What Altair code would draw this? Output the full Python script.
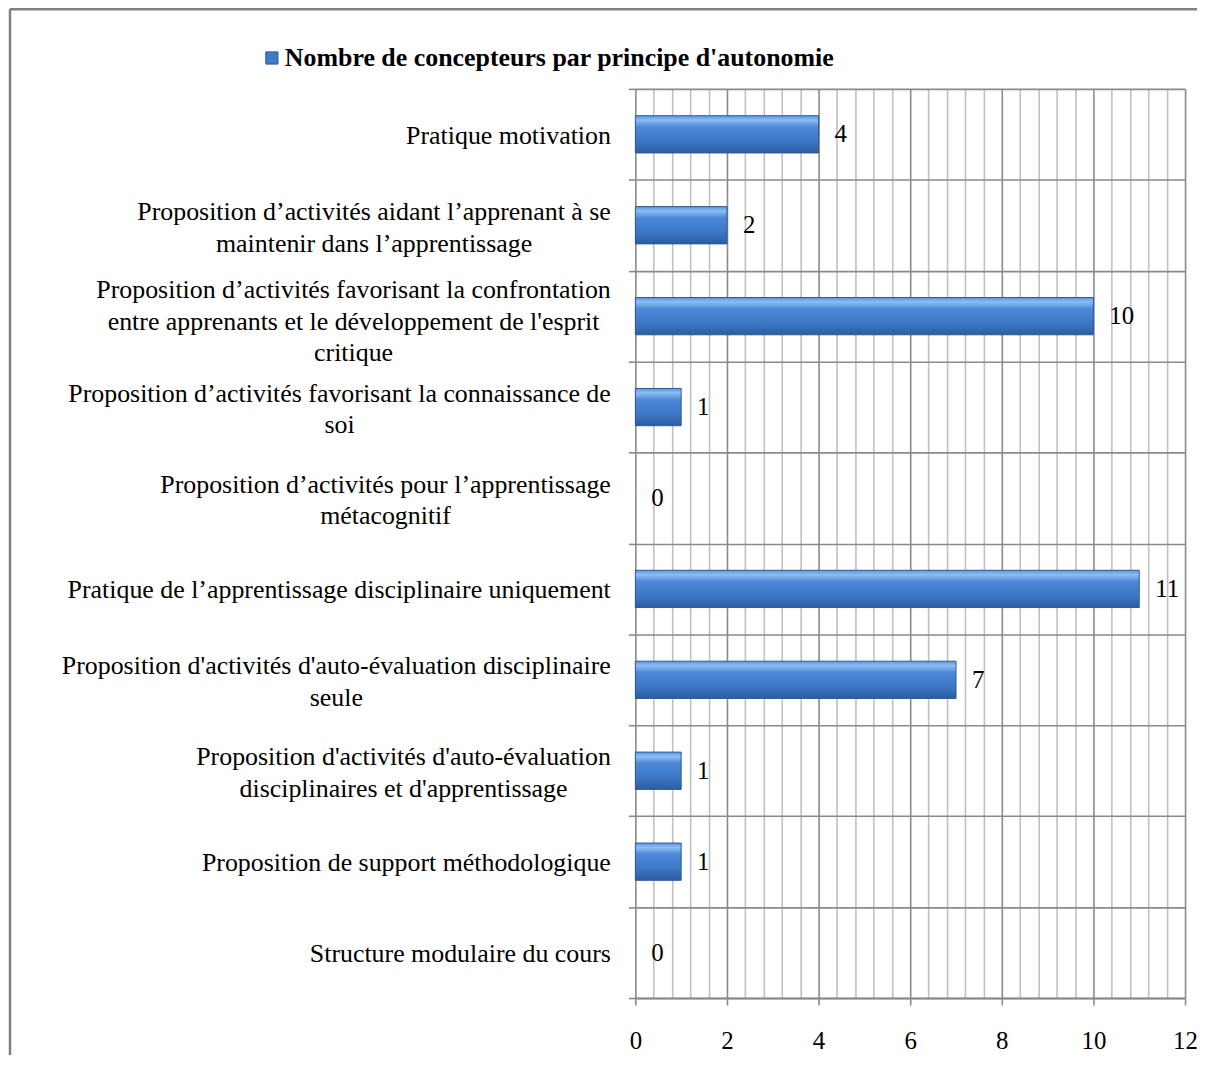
import json
import altair as alt
import pandas as pd

# ---- data ----
categories = [
    "Pratique motivation",
    "Proposition d’activités aidant l’apprenant à se|maintenir dans l’apprentissage",
    "Proposition d’activités favorisant la confrontation|entre apprenants et le développement de l'esprit|critique",
    "Proposition d’activités favorisant la connaissance de|soi",
    "Proposition d’activités pour l’apprentissage|métacognitif",
    "Pratique de l’apprentissage disciplinaire uniquement",
    "Proposition d'activités d'auto-évaluation disciplinaire|seule",
    "Proposition d'activités d'auto-évaluation|disciplinaires et d'apprentissage",
    "Proposition de support méthodologique",
    "Structure modulaire du cours",
]
values = [4, 2, 10, 1, 0, 11, 7, 1, 1, 0]
x_domain = [0, 12]
legend_title = "Nombre de concepteurs par principe d'autonomie"

df = pd.DataFrame({"cat": categories, "val": values})
grid_values = [round(i * 0.4, 1) for i in range(31)]

FONT = "Liberation Serif"
LABEL_SIZE = 26
BASE_PAD = 18
MAJOR = "#8a8a8a"
MINOR = "#c0c0c0"
is_major = "abs(datum.value % 2) < 0.01"


def _text_width(text, size):
    """Measure text width with the installed font (so multi-line labels can be centred)."""
    try:
        import subprocess
        from PIL import ImageFont
        path = subprocess.run(
            ["fc-match", "-f", "%{file}", "Liberation Serif:style=Regular"],
            capture_output=True, text=True,
        ).stdout.strip()
        font = ImageFont.truetype(path, size)
        return font.getlength(text)
    except Exception:
        return None


label_align = "right"
label_padding = BASE_PAD
widths = {}
for c in categories:
    ws = [_text_width(line, LABEL_SIZE) for line in c.split("|")]
    if any(w is None for w in ws):
        widths = None
        break
    widths[c] = max(ws)
if widths:
    label_align = "center"
    label_padding = {
        "condition": [
            {"test": f"datum.label === {json.dumps(c, ensure_ascii=False)}",
             "value": BASE_PAD + w / 2}
            for c, w in widths.items()
        ],
        "value": BASE_PAD,
    }

bar_fill = alt.LinearGradient(
    gradient="linear",
    x1=0, x2=0, y1=0, y2=1,
    stops=[
        alt.GradientStop(color="#5b95df", offset=0),
        alt.GradientStop(color="#8dbdf3", offset=0.12),
        alt.GradientStop(color="#4d89d8", offset=0.3),
        alt.GradientStop(color="#3c76c4", offset=0.7),
        alt.GradientStop(color="#2c5c9f", offset=1),
    ],
)

x_enc = alt.X(
    "val:Q",
    scale=alt.Scale(domain=x_domain, nice=False, zero=True),
    axis=alt.Axis(
        title=None,
        values=grid_values,
        labelExpr=f"{is_major} ? format(datum.value, 'd') : ''",
        labelOverlap=False,
        labelFlush=False,
        labelFont=FONT,
        labelFontSize=25,
        labelColor="black",
        labelPadding=24,
        grid=True,
        gridColor={"condition": {"test": is_major, "value": MAJOR}, "value": MINOR},
        gridWidth=1.6,
        tickSize=7,
        tickColor=MAJOR,
        tickWidth=1.6,
        tickOpacity={"condition": {"test": is_major, "value": 1}, "value": 0},
        domainColor=MAJOR,
        domainWidth=2,
    ),
)

y_enc = alt.Y(
    "cat:N",
    sort=None,
    scale=alt.Scale(paddingInner=0, paddingOuter=0),
    axis=alt.Axis(
        title=None,
        labelExpr="split(datum.label, '|')",
        labelFont=FONT,
        labelFontSize=LABEL_SIZE,
        labelLineHeight=32,
        labelColor="black",
        labelLimit=800,
        labelAlign=label_align,
        labelPadding=label_padding,
        labelOffset={
            "condition": [
                {"test": "length(split(datum.label, '|')) == 3", "value": -27},
                {"test": "length(split(datum.label, '|')) == 2", "value": -14},
            ],
            "value": 1,
        },
        tickBand="extent",
        grid=True,
        gridColor=MAJOR,
        gridWidth=1.6,
        tickSize=7,
        tickColor=MAJOR,
        tickWidth=1.6,
        domain=False,
    ),
)

bars = alt.Chart(df).mark_bar(
    height=alt.RelativeBandSize(0.41),
    fill=bar_fill,
    stroke="#2c5a98",
).encode(
    x=x_enc,
    y=y_enc,
    strokeWidth=alt.condition("datum.val > 0", alt.value(1), alt.value(0)),
)

labels = alt.Chart(df).mark_text(
    align="left", baseline="middle", dx=16, font=FONT, fontSize=25, color="black"
).encode(x=x_enc, y=y_enc, text="val:Q")

one = alt.Data(values=[{}])

legend_sym = alt.Chart(one).mark_square(
    size=150, fill="#3f7bcb", stroke="#2c5a98", strokeWidth=1, opacity=1
).encode(x=alt.value(-365), y=alt.value(-31))

legend_txt = alt.Chart(one).mark_text(
    text=legend_title, align="left", baseline="middle", font=FONT,
    fontSize=26, fontWeight="bold", color="black"
).encode(x=alt.value(-352), y=alt.value(-31))

frame_left = alt.Chart(one).mark_rule(color="#808080", strokeWidth=2.5).encode(
    x=alt.value(-628), y=alt.value(-80), y2=alt.value(980)
)
frame_top = alt.Chart(one).mark_rule(color="#808080", strokeWidth=2.5).encode(
    x=alt.value(-628), x2=alt.value(580), y=alt.value(-80)
)

chart = alt.layer(frame_left, frame_top, bars, labels, legend_sym, legend_txt).properties(
    width=552,
    height=913,
    autosize="none",
    padding={"left": 630, "top": 79, "right": 12, "bottom": 55},
    background="white",
).configure_view(stroke=None)

chart.save("out.html", embed_options={"renderer": "svg", "actions": False})
